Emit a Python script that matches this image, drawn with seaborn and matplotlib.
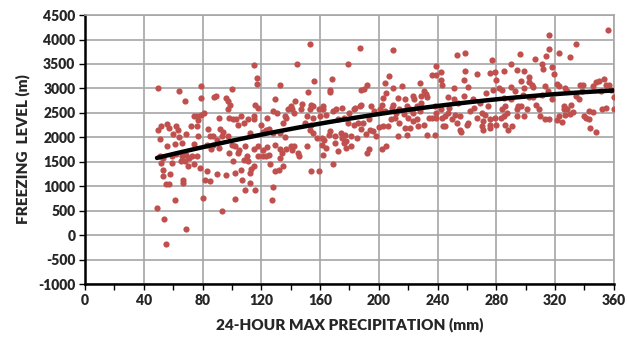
import matplotlib
matplotlib.use("Agg")
import matplotlib.pyplot as plt
import numpy as np
import seaborn as sns

# points, in bands of precipitation (mm) / freezing level (m)
precip_050_100 = [50, 64, 68, 79, 79, 88, 89, 96, 97, 97, 98, 74, 76, 79, 81, 77, 76, 91, 72, 50,
                  52, 56, 57, 62, 63, 60, 64, 51, 69, 77, 84, 85, 87, 92, 93, 94, 90, 97, 56, 61,
                  66, 74, 83, 86, 87, 91, 98, 51, 53, 59, 62, 66, 69, 71, 65, 68, 73, 76, 52, 59,
                  70, 74, 78, 53, 53, 58, 67, 67, 55, 57, 83, 82, 85, 90, 96, 61, 80, 49, 54, 93,
                  69, 55]
freeze_050_100 = [3000, 2945, 2750, 3040, 2805, 2825, 2855, 2805, 2740, 2580, 2400, 2445, 2445, 2465, 2500, 2350, 2240, 2400, 2225, 2160,
                  2240, 2275, 2195, 2225, 2160, 2075, 2000, 1975, 2075, 2025, 2175, 2035, 2025, 2180, 2025, 2110, 1940, 2025, 1820, 1865,
                  1885, 1865, 1850, 1765, 1850, 1785, 1670, 1615, 1580, 1615, 1660, 1615, 1635, 1580, 1525, 1510, 1615, 1615, 1475, 1475,
                  1410, 1445, 1375, 1340, 1205, 1240, 1135, 1070, 1055, 1045, 1305, 1135, 1100, 1250, 1225, 725, 760, 545, 330, 490,
                  115, -175]

precip_100_155 = [153, 115, 144, 117, 117, 133, 156, 100, 99, 101, 103, 106, 104, 108, 111, 115, 115, 116, 118, 120,
                  124, 129, 128, 131, 136, 137, 135, 140, 138, 141, 143, 148, 147, 142, 151, 152, 155, 155, 150, 154,
                  123, 125, 121, 128, 133, 136, 112, 100, 102, 104, 105, 109, 110, 108, 111, 101, 115, 118, 118, 121,
                  123, 125, 121, 124, 129, 133, 134, 133, 137, 140, 142, 141, 145, 146, 151, 102, 106, 107, 112, 113,
                  112, 109, 116, 102, 126, 129, 132, 135, 128, 127, 154, 115]
freeze_100_155 = [3900, 3475, 3500, 3215, 3100, 3060, 3150, 2990, 2670, 2365, 2365, 2430, 2260, 2295, 2375, 2365, 2445, 2670, 2600, 2260,
                  2400, 2785, 2535, 2500, 2430, 2400, 2295, 2635, 2570, 2570, 2750, 2685, 2570, 2500, 2430, 2925, 2635, 2400, 2295, 2260,
                  2160, 2175, 2105, 2090, 2090, 2010, 2090, 1850, 1820, 1680, 1750, 1820, 1615, 1545, 1510, 1510, 1765, 1820, 1615, 1615,
                  1615, 1645, 1750, 1805, 1850, 1765, 1670, 1580, 1765, 1830, 1820, 1750, 1680, 1615, 1820, 1270, 1340, 1120, 1270, 1355,
                  1070, 930, 920, 745, 1445, 1305, 1340, 1410, 985, 715, 1320, 1410]

precip_155_215 = [187, 210, 179, 168, 167, 167, 188, 190, 192, 207, 204, 210, 203, 205, 213, 153, 154, 159, 162, 160,
                  162, 164, 169, 171, 175, 172, 176, 180, 183, 184, 187, 188, 195, 197, 201, 202, 204, 209, 210, 211,
                  208, 193, 189, 186, 183, 179, 153, 155, 158, 161, 163, 166, 167, 170, 174, 175, 177, 178, 181, 185,
                  188, 191, 194, 196, 198, 200, 203, 206, 213, 161, 164, 170, 176, 178, 181, 172, 193, 192, 202, 205,
                  169, 159, 162]
freeze_155_215 = [3830, 3795, 3500, 3195, 2975, 2925, 2965, 2990, 3080, 3250, 3115, 3010, 2805, 2910, 2805, 2570, 2670, 2570, 2635, 2430,
                  2580, 2465, 2535, 2570, 2600, 2365, 2400, 2500, 2570, 2595, 2635, 2670, 2635, 2535, 2580, 2670, 2535, 2600, 2670, 2400,
                  2365, 2365, 2295, 2295, 2260, 2295, 2160, 2090, 1990, 1990, 1955, 2055, 2125, 2025, 2090, 1990, 2055, 1920, 2025, 1990,
                  2175, 2075, 2160, 2125, 2035, 2215, 2240, 2225, 2025, 1850, 1785, 1885, 1885, 1785, 1820, 1715, 1765, 1680, 1765, 1820,
                  1445, 1320, 1645]

precip_215_270 = [253, 259, 239, 236, 239, 242, 242, 243, 259, 258, 267, 228, 216, 251, 261, 218, 223, 224, 229, 231,
                  232, 233, 229, 226, 221, 219, 214, 212, 217, 223, 228, 220, 223, 226, 214, 218, 221, 227, 219, 233,
                  238, 231, 234, 236, 239, 243, 245, 247, 248, 254, 251, 258, 247, 242, 238, 239, 244, 245, 250, 252,
                  255, 253, 255, 256, 260, 261, 262, 264, 265, 267, 269, 270, 270, 271]
freeze_215_270 = [3680, 3715, 3455, 3265, 3265, 3330, 3170, 3080, 3365, 3180, 3305, 3115, 3045, 3010, 3030, 2775, 2855, 2785, 2855, 2945,
                  2895, 2825, 2705, 2635, 2570, 2635, 2570, 2500, 2485, 2500, 2535, 2400, 2330, 2365, 2295, 2195, 2195, 2225, 2055, 2055,
                  2055, 2260, 2400, 2400, 2400, 2400, 2430, 2500, 2600, 2705, 2775, 2855, 2825, 2570, 2635, 2500, 2225, 2240, 2365, 2465,
                  2430, 2295, 2160, 2105, 2260, 2295, 2535, 2775, 2600, 2400, 2705, 2500, 2225, 2145]

precip_270_328 = [316, 316, 323, 296, 306, 277, 314, 290, 294, 299, 285, 276, 279, 280, 311, 312, 318, 319, 297, 302,
                  302, 304, 305, 273, 278, 282, 284, 290, 293, 299, 313, 321, 323, 327, 315, 305, 302, 298, 290, 285,
                  274, 286, 284, 287, 283, 285, 279, 276, 272, 271, 276, 280, 286, 288, 291, 276, 294, 295, 297, 299,
                  294, 301, 307, 309, 310, 313, 316, 321, 323, 326, 325, 327, 318, 311]
freeze_270_328 = [4100, 3810, 3725, 3695, 3610, 3590, 3660, 3490, 3385, 3350, 3350, 3320, 3330, 3170, 3490, 3400, 3440, 3285, 3150, 3230,
                  3125, 3080, 3030, 2910, 2975, 3010, 2975, 3030, 2945, 3010, 3045, 3100, 3045, 3010, 2945, 2825, 2825, 2875, 2785, 2805,
                  2635, 2635, 2570, 2500, 2400, 2430, 2400, 2365, 2465, 2330, 2260, 2260, 2260, 2160, 2240, 2195, 2570, 2635, 2650, 2430,
                  2430, 2570, 2670, 2580, 2430, 2365, 2365, 2345, 2430, 2570, 2310, 2465, 2775, 2875]

precip_328_360 = [356, 334, 330, 328, 334, 336, 337, 339, 338, 346, 348, 350, 353, 351, 355, 357, 358, 360, 360, 355,
                  352, 326, 328, 331, 332, 330, 340, 341, 343, 343, 346, 344, 348]
freeze_328_360 = [4205, 3910, 3645, 2945, 2855, 2775, 3080, 3080, 2945, 3045, 3125, 3150, 3200, 2945, 3060, 3060, 2975, 2825, 2570, 2600,
                  2570, 2635, 2570, 2670, 2520, 2485, 2445, 2400, 2365, 2535, 2515, 2195, 2105]

precip = np.array(precip_050_100 + precip_100_155 + precip_155_215 + precip_215_270 + precip_270_328 + precip_328_360)
freezing = np.array(freeze_050_100 + freeze_100_155 + freeze_155_215 + freeze_215_270 + freeze_270_328 + freeze_328_360)

x_ticks = list(range(0, 361, 40))
y_ticks = list(range(-1000, 4501, 500))

sns.set_style("white")
plt.rcParams['font.family'] = ['Lato', 'DejaVu Sans']
plt.rcParams['font.weight'] = 'heavy'
plt.rcParams['axes.unicode_minus'] = False

fig, ax = plt.subplots(figsize=(6.27, 3.43), dpi=100)
fig.subplots_adjust(left=0.1356, right=0.979, top=0.956, bottom=0.172)

sns.regplot(x=precip, y=freezing, order=2, ci=None, ax=ax,
            scatter_kws=dict(color="#C0504D", s=20, linewidths=0, alpha=1, zorder=3),
            line_kws=dict(color="black", lw=3.2, zorder=4))

ax.set_xlim(0, 360)
ax.set_ylim(-1000, 4500)
ax.set_xticks(x_ticks)
ax.set_xticks(range(20, 360, 40), minor=True)
ax.set_yticks(y_ticks)
ax.grid(True, color="#A6A6A6", lw=1.2)
ax.set_axisbelow(True)

for side in ["left", "bottom"]:
    ax.spines[side].set_color("black")
    ax.spines[side].set_linewidth(1.8)
for side in ["top", "right"]:
    ax.spines[side].set_color("#A6A6A6")
    ax.spines[side].set_linewidth(1.2)

ax.tick_params(axis="both", which="both", direction="out", length=4, width=1, color="black",
               labelsize=10, pad=3, left=True, bottom=True)
for lab in ax.get_xticklabels() + ax.get_yticklabels():
    lab.set_fontweight("heavy")

ax.set_xlabel("24-HOUR MAX PRECIPITATION (mm)", fontsize=11, fontweight="heavy", labelpad=8)
ax.set_ylabel("FREEZING  LEVEL (m)", fontsize=11, fontweight="heavy", labelpad=6)

fig.savefig("out.png", dpi=100)
